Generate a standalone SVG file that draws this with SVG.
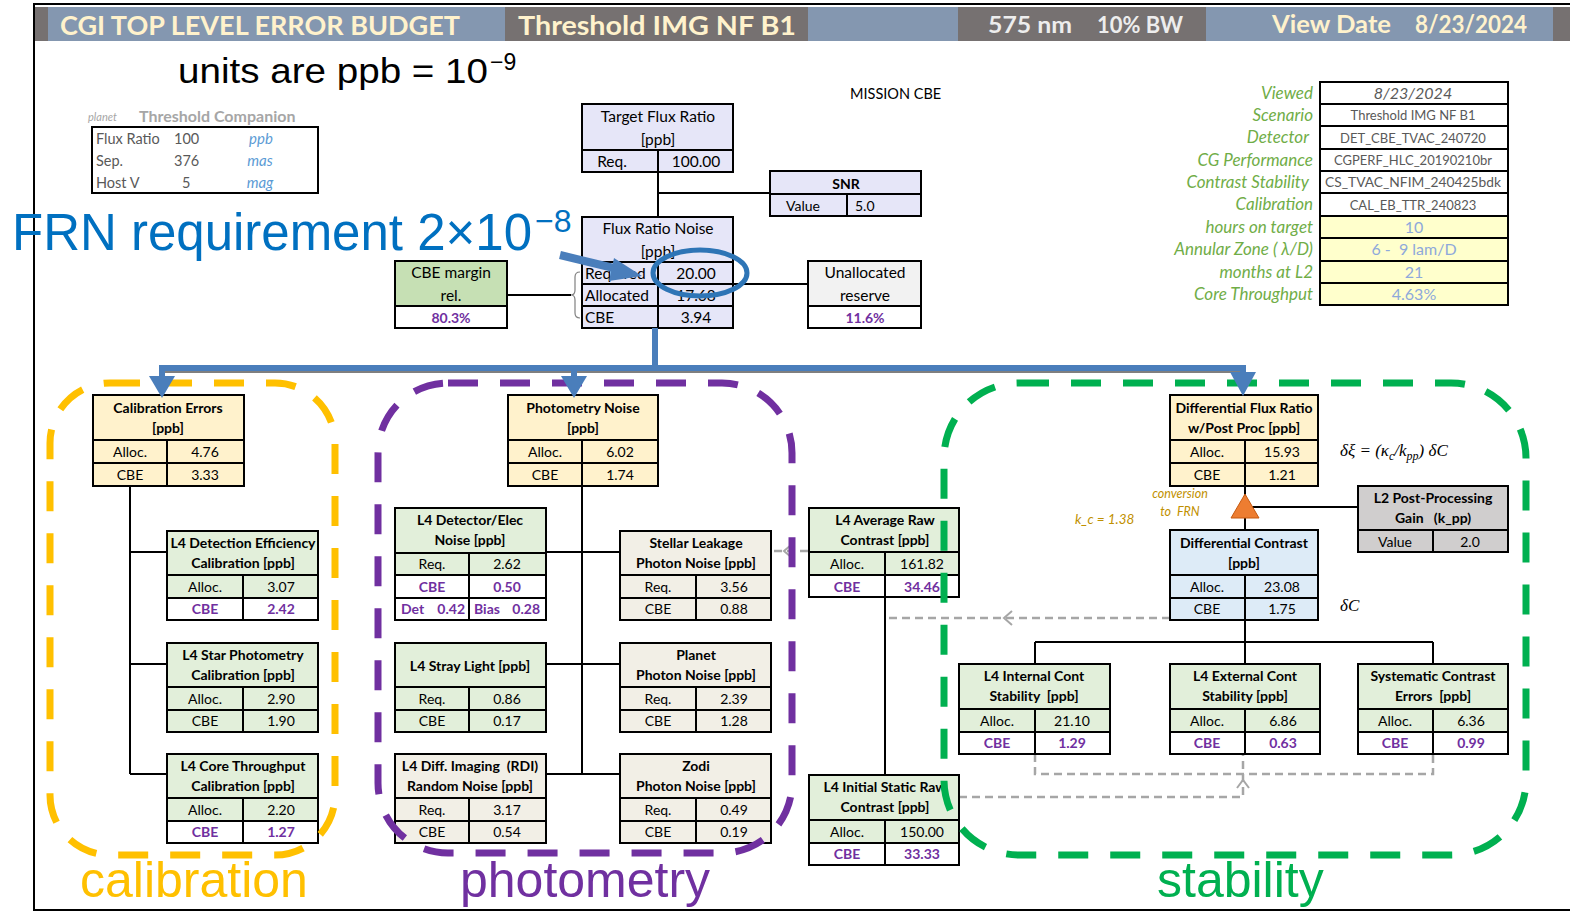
<svg xmlns="http://www.w3.org/2000/svg" width="1570" height="912" viewBox="0 0 1570 912">
<defs>
<style>
.t{font-family:Lato,"Open Sans",sans-serif;font-size:14px;fill:#000;text-anchor:middle}
.tl{font-family:Lato,"Open Sans",sans-serif;font-size:15.5px;fill:#000;text-anchor:middle}
.b{font-weight:bold}
.p{fill:#7030A0;font-weight:bold}
.s{text-anchor:start}
.e{text-anchor:end}
.bx{fill:none;stroke:#000;stroke-width:2}
.ln{stroke:#000;stroke-width:2;fill:none}
.dg{stroke:#A6A6A6;stroke-width:2.5;fill:none;stroke-dasharray:8 5}
.ch{stroke:#A6A6A6;stroke-width:2;fill:none}
.y{fill:#FFF2CC}.g{fill:#E2EFDA}.w{fill:#fff}.be{fill:#F2EFE6}.lv{fill:#E6E6F8}.bl{fill:#DDEBF7}.gr{fill:#D0CECE}
.hd{font-family:Lato,"Open Sans",sans-serif;font-weight:bold}
.grp{fill:none;stroke-width:7;stroke-dasharray:30 22}
.big{font-family:"Liberation Sans",Arial,sans-serif}
.lab{font-family:Lato,"Open Sans",sans-serif;font-style:italic;font-size:17px;fill:#70AD47;text-anchor:end}
.iv{font-family:Lato,"Open Sans",sans-serif;fill:#595959;text-anchor:middle}
.yv{font-family:Lato,"Open Sans",sans-serif;font-size:16px;fill:#8EA9DB;text-anchor:middle}
.gold{font-family:Lato,"Open Sans",sans-serif;font-style:italic;fill:#BF9000}
.math{font-family:"Liberation Serif","DejaVu Serif",serif;font-style:italic;font-size:17px;fill:#000}
</style>
</defs>
<rect width="1570" height="912" fill="#fff"/>
<!-- frame and header -->
<rect x="34" y="4" width="1545" height="906" fill="none" stroke="#000" stroke-width="2"/>
<g id="header">
<rect x="35" y="7" width="13" height="34" fill="#767171"/>
<rect x="48" y="7" width="457" height="34" fill="#8497B0"/>
<rect x="505" y="7" width="303" height="34" fill="#767171"/>
<rect x="808" y="7" width="150" height="34" fill="#8497B0"/>
<rect x="958" y="7" width="248" height="34" fill="#767171"/>
<rect x="1206" y="7" width="347" height="34" fill="#8497B0"/>
<rect x="1553" y="7" width="17" height="34" fill="#767171"/>
<text class="hd" x="60" y="35" font-size="26" fill="#FFF2CC" textLength="400" lengthAdjust="spacingAndGlyphs">CGI TOP LEVEL ERROR BUDGET</text>
<text class="hd" x="518" y="35" font-size="26" fill="#FFF2CC" textLength="278" lengthAdjust="spacingAndGlyphs">Threshold IMG NF B1</text>
<text class="hd" x="988" y="33" font-size="23" fill="#EDEDED" textLength="84" lengthAdjust="spacingAndGlyphs">575 nm</text>
<text class="hd" x="1097" y="33" font-size="23" fill="#EDEDED" textLength="86" lengthAdjust="spacingAndGlyphs">10% BW</text>
<text class="hd" x="1272" y="33" font-size="24" fill="#FFF2CC" textLength="119" lengthAdjust="spacingAndGlyphs">View Date</text>
<text class="hd" x="1415" y="33" font-size="24" fill="#FFF2CC" textLength="112" lengthAdjust="spacingAndGlyphs">8/23/2024</text>
</g>
<text class="big" x="178" y="83" font-size="35" fill="#000" textLength="310" lengthAdjust="spacingAndGlyphs">units are ppb = 10</text>
<text class="big" x="490" y="70" font-size="23" fill="#000">−9</text>
<text x="850" y="99" font-family="Lato,'Open Sans',sans-serif" font-size="14.5" fill="#000">MISSION CBE</text>
<!-- planet table -->
<g id="planet">
<text x="88" y="121" font-family="Lato,sans-serif" font-style="italic" font-size="11" fill="#A6A6A6">planet</text>
<text x="139" y="122" font-family="Lato,sans-serif" font-weight="bold" font-size="16" fill="#A6A6A6">Threshold Companion</text>
<rect x="92" y="127" width="226" height="66" class="bx"/>
<g font-family="Lato,sans-serif" font-size="14.5" fill="#595959">
<text x="96" y="144">Flux Ratio</text><text x="174" y="144">100</text>
<text x="96" y="166">Sep.</text><text x="174" y="166">376</text>
<text x="96" y="188">Host V</text><text x="182" y="188">5</text>
</g>
<g font-family="Lato,sans-serif" font-size="15" font-style="italic" fill="#5B9BD5" text-anchor="middle">
<text x="261" y="144">ppb</text><text x="260" y="166">mas</text><text x="260" y="188">mag</text>
</g>
</g>
<!-- right info panel -->
<g id="info">
<rect x="1320" y="82" width="188" height="134" fill="#fff"/>
<rect x="1320" y="216" width="188" height="89" fill="#FFFFCC"/>
<g class="ln">
<rect x="1320" y="82" width="188" height="223"/>
<path d="M1320,104H1508M1320,126H1508M1320,149H1508M1320,171H1508M1320,193H1508M1320,216H1508M1320,238H1508M1320,261H1508M1320,283H1508"/>
</g>
<text class="lab" x="1313" y="99">Viewed</text>
<text class="lab" x="1313" y="121">Scenario</text>
<text class="lab" x="1309" y="143">Detector</text>
<text class="lab" x="1313" y="166">CG Performance</text>
<text class="lab" x="1309" y="188">Contrast Stability</text>
<text class="lab" x="1313" y="210">Calibration</text>
<text class="lab" x="1313" y="233">hours on target</text>
<text class="lab" x="1313" y="255">Annular Zone ( λ/D)</text>
<text class="lab" x="1313" y="278">months at L2</text>
<text class="lab" x="1313" y="300">Core Throughput</text>
<text class="iv" x="1413" y="99" font-size="16" font-style="italic">8/23/2024</text>
<text class="iv" x="1413" y="120" font-size="13">Threshold IMG NF B1</text>
<text class="iv" x="1413" y="143" font-size="13">DET_CBE_TVAC_240720</text>
<text class="iv" x="1413" y="165" font-size="13">CGPERF_HLC_20190210br</text>
<text class="iv" x="1413" y="187" font-size="13" textLength="176" lengthAdjust="spacingAndGlyphs">CS_TVAC_NFIM_240425bdk</text>
<text class="iv" x="1413" y="210" font-size="13">CAL_EB_TTR_240823</text>
<text class="yv" x="1414" y="233">10</text>
<text class="yv" x="1414" y="255" xml:space="preserve">6 -  9 lam/D</text>
<text class="yv" x="1414" y="278">21</text>
<text class="yv" x="1414" y="300">4.63%</text>
</g>
<!-- connectors -->
<g id="connectors">
<path class="ln" d="M658,172V217M658,193H770M733,284H808M507,295H571"/>
<path d="M580,272q-5,0 -5,5v13q0,5 -4,5q4,0 4,5v13q0,5 5,5" fill="none" stroke="#808080" stroke-width="1.2"/>
<path d="M165,372H1240" stroke="#000" stroke-width="1.2"/>
<path class="ln" d="M130,486V774M130,552H167M130,664H167M130,774H167"/>
<path class="ln" d="M582,486V774M546,552H620M546,664H620M546,774H620"/>
<path class="ln" d="M885,597V775"/>
<path class="ln" d="M1245,486V530M1245,507H1358M1245,620V664M1035,642H1433M1035,642V664M1433,642V664"/>
<path class="dg" d="M808,551H772"/>
<path class="ch" d="M791,545l-7,6l7,6"/>
<path class="dg" d="M1170,618H885"/>
<path class="ch" d="M1012,611l-8,7l8,7"/>
<path class="dg" d="M959,797H1243V754"/>
<path class="ch" d="M1237,788l6,-8l6,8"/>
<path class="dg" d="M1035,754V774H1433V754"/>
<polygon points="1245,494 1231,518 1259,518" fill="#ED7D31" stroke="#C55A11" stroke-width="1"/>
</g>
<!-- top level nodes -->
<g id="target">
<rect x="582" y="104" width="151" height="68" class="lv"/>
<rect x="582" y="104" width="151" height="68" class="bx"/>
<path class="ln" d="M582,150H733M658,150V172"/>
<text class="tl" x="658" y="122">Target Flux Ratio</text>
<text class="tl" x="658" y="145">[ppb]</text>
<text class="tl" x="612" y="167">Req.</text>
<text class="tl" x="696" y="167">100.00</text>
</g>
<g id="snr">
<rect x="770" y="171" width="151" height="45" class="lv"/>
<rect x="770" y="171" width="151" height="45" class="bx"/>
<path class="ln" d="M770,194H921M847,194V216"/>
<text class="t b" x="846" y="189">SNR</text>
<text class="t" x="803" y="211">Value</text>
<text class="t s" x="855" y="211">5.0</text>
</g>
<g id="frn">
<rect x="582" y="217" width="151" height="111" class="lv"/>
<rect x="582" y="217" width="151" height="111" class="bx"/>
<path class="ln" d="M582,262H733M582,284H733M582,306H733M658,262V328"/>
<text class="tl" x="658" y="234">Flux Ratio Noise</text>
<text class="tl" x="658" y="257">[ppb]</text>
<text class="tl s" x="585" y="279">Required</text>
<text class="tl" x="696" y="279">20.00</text>
<text class="tl s" x="585" y="301">Allocated</text>
<text class="tl" x="696" y="301">17.68</text>
<text class="tl s" x="585" y="323">CBE</text>
<text class="tl" x="696" y="323">3.94</text>
</g>
<g id="margin">
<rect x="395" y="261" width="112" height="45" fill="#C6E0B4"/>
<rect x="395" y="306" width="112" height="22" class="w"/>
<rect x="395" y="261" width="112" height="67" class="bx"/>
<path class="ln" d="M395,306H507"/>
<text class="tl" x="451" y="278">CBE margin</text>
<text class="tl" x="451" y="301">rel.</text>
<text class="t p" x="451" y="323">80.3%</text>
</g>
<g id="reserve">
<rect x="808" y="261" width="113" height="45" fill="#F2F2F2"/>
<rect x="808" y="306" width="113" height="22" class="w"/>
<rect x="808" y="261" width="113" height="67" class="bx"/>
<path class="ln" d="M808,306H921"/>
<text class="tl" x="865" y="278">Unallocated</text>
<text class="tl" x="865" y="301">reserve</text>
<text class="t p" x="865" y="323">11.6%</text>
</g>
<!-- calibration -->
<g id="cal-errors">
<rect x="93" y="395" width="151" height="91" class="y"/>
<rect x="93" y="395" width="151" height="91" class="bx"/>
<path class="ln" d="M93,440H244M93,463H244M167,440V486"/>
<text class="t b" x="168" y="413">Calibration Errors</text>
<text class="t b" x="168" y="433">[ppb]</text>
<text class="t" x="130" y="457">Alloc.</text><text class="t" x="205" y="457">4.76</text>
<text class="t" x="130" y="480">CBE</text><text class="t" x="205" y="480">3.33</text>
</g>
<g id="det-eff">
<rect x="167" y="531" width="151" height="67" class="g"/>
<rect x="167" y="598" width="151" height="22" class="w"/>
<rect x="167" y="531" width="151" height="89" class="bx"/>
<path class="ln" d="M167,575H318M167,598H318M243,575V620"/>
<text class="t b" x="243" y="548">L4 Detection Efficiency</text>
<text class="t b" x="243" y="568">Calibration [ppb]</text>
<text class="t" x="205" y="592">Alloc.</text><text class="t" x="281" y="592">3.07</text>
<text class="t p" x="205" y="614">CBE</text><text class="t p" x="281" y="614">2.42</text>
</g>
<g id="star-phot">
<rect x="167" y="643" width="151" height="89" class="g"/>
<rect x="167" y="643" width="151" height="89" class="bx"/>
<path class="ln" d="M167,687H318M167,710H318M243,687V732"/>
<text class="t b" x="243" y="660">L4 Star Photometry</text>
<text class="t b" x="243" y="680">Calibration [ppb]</text>
<text class="t" x="205" y="704">Alloc.</text><text class="t" x="281" y="704">2.90</text>
<text class="t" x="205" y="726">CBE</text><text class="t" x="281" y="726">1.90</text>
</g>
<g id="core-thru">
<rect x="167" y="754" width="151" height="67" class="g"/>
<rect x="167" y="821" width="151" height="22" class="w"/>
<rect x="167" y="754" width="151" height="89" class="bx"/>
<path class="ln" d="M167,798H318M167,821H318M243,798V843"/>
<text class="t b" x="243" y="771">L4 Core Throughput</text>
<text class="t b" x="243" y="791">Calibration [ppb]</text>
<text class="t" x="205" y="815">Alloc.</text><text class="t" x="281" y="815">2.20</text>
<text class="t p" x="205" y="837">CBE</text><text class="t p" x="281" y="837">1.27</text>
</g>
<!-- photometry -->
<g id="phot-noise">
<rect x="508" y="395" width="150" height="91" class="y"/>
<rect x="508" y="395" width="150" height="91" class="bx"/>
<path class="ln" d="M508,440H658M508,463H658M582,440V486"/>
<text class="t b" x="583" y="413">Photometry Noise</text>
<text class="t b" x="583" y="433">[ppb]</text>
<text class="t" x="545" y="457">Alloc.</text><text class="t" x="620" y="457">6.02</text>
<text class="t" x="545" y="480">CBE</text><text class="t" x="620" y="480">1.74</text>
</g>
<g id="det-elec">
<rect x="395" y="508" width="151" height="67" class="g"/>
<rect x="395" y="575" width="151" height="45" class="w"/>
<rect x="395" y="508" width="151" height="112" class="bx"/>
<path class="ln" d="M395,553H546M395,575H546M395,598H546M469,553V620"/>
<text class="t b" x="470" y="525">L4 Detector/Elec</text>
<text class="t b" x="470" y="545">Noise [ppb]</text>
<text class="t" x="432" y="569">Req.</text><text class="t" x="507" y="569">2.62</text>
<text class="t p" x="432" y="592">CBE</text><text class="t p" x="507" y="592">0.50</text>
<text class="t p s" x="401" y="614">Det</text><text class="t p e" x="465" y="614">0.42</text>
<text class="t p s" x="474" y="614">Bias</text><text class="t p e" x="540" y="614">0.28</text>
</g>
<g id="stellar">
<rect x="620" y="531" width="151" height="89" class="be"/>
<rect x="620" y="531" width="151" height="89" class="bx"/>
<path class="ln" d="M620,575H771M620,598H771M696,575V620"/>
<text class="t b" x="696" y="548">Stellar Leakage</text>
<text class="t b" x="696" y="568">Photon Noise [ppb]</text>
<text class="t" x="658" y="592">Req.</text><text class="t" x="734" y="592">3.56</text>
<text class="t" x="658" y="614">CBE</text><text class="t" x="734" y="614">0.88</text>
</g>
<g id="stray">
<rect x="395" y="643" width="151" height="89" class="g"/>
<rect x="395" y="643" width="151" height="89" class="bx"/>
<path class="ln" d="M395,687H546M395,710H546M469,687V732"/>
<text class="t b" x="470" y="671">L4 Stray Light [ppb]</text>
<text class="t" x="432" y="704">Req.</text><text class="t" x="507" y="704">0.86</text>
<text class="t" x="432" y="726">CBE</text><text class="t" x="507" y="726">0.17</text>
</g>
<g id="planet-noise">
<rect x="620" y="643" width="151" height="89" class="be"/>
<rect x="620" y="643" width="151" height="89" class="bx"/>
<path class="ln" d="M620,687H771M620,710H771M696,687V732"/>
<text class="t b" x="696" y="660">Planet</text>
<text class="t b" x="696" y="680">Photon Noise [ppb]</text>
<text class="t" x="658" y="704">Req.</text><text class="t" x="734" y="704">2.39</text>
<text class="t" x="658" y="726">CBE</text><text class="t" x="734" y="726">1.28</text>
</g>
<g id="rdi">
<rect x="395" y="754" width="151" height="89" class="be"/>
<rect x="395" y="754" width="151" height="89" class="bx"/>
<path class="ln" d="M395,798H546M395,821H546M469,798V843"/>
<text class="t b" x="470" y="771" xml:space="preserve">L4 Diff. Imaging  (RDI)</text>
<text class="t b" x="470" y="791">Random Noise [ppb]</text>
<text class="t" x="432" y="815">Req.</text><text class="t" x="507" y="815">3.17</text>
<text class="t" x="432" y="837">CBE</text><text class="t" x="507" y="837">0.54</text>
</g>
<g id="zodi">
<rect x="620" y="754" width="151" height="89" class="be"/>
<rect x="620" y="754" width="151" height="89" class="bx"/>
<path class="ln" d="M620,798H771M620,821H771M696,798V843"/>
<text class="t b" x="696" y="771">Zodi</text>
<text class="t b" x="696" y="791">Photon Noise [ppb]</text>
<text class="t" x="658" y="815">Req.</text><text class="t" x="734" y="815">0.49</text>
<text class="t" x="658" y="837">CBE</text><text class="t" x="734" y="837">0.19</text>
</g>
<!-- raw contrast -->
<g id="avg-raw">
<rect x="809" y="508" width="150" height="67" class="g"/>
<rect x="809" y="575" width="150" height="22" class="w"/>
<rect x="809" y="508" width="150" height="89" class="bx"/>
<path class="ln" d="M809,552H959M809,575H959M885,552V597"/>
<text class="t b" x="885" y="525">L4 Average Raw</text>
<text class="t b" x="885" y="545">Contrast [ppb]</text>
<text class="t" x="847" y="569">Alloc.</text><text class="t" x="922" y="569">161.82</text>
<text class="t p" x="847" y="592">CBE</text><text class="t p" x="922" y="592">34.46</text>
</g>
<g id="init-raw">
<rect x="809" y="775" width="150" height="68" class="g"/>
<rect x="809" y="843" width="150" height="22" class="w"/>
<rect x="809" y="775" width="150" height="90" class="bx"/>
<path class="ln" d="M809,820H959M809,843H959M885,820V865"/>
<text class="t b" x="885" y="792">L4 Initial Static Raw</text>
<text class="t b" x="885" y="812">Contrast [ppb]</text>
<text class="t" x="847" y="837">Alloc.</text><text class="t" x="922" y="837">150.00</text>
<text class="t p" x="847" y="859">CBE</text><text class="t p" x="922" y="859">33.33</text>
</g>
<!-- stability -->
<g id="dfr">
<rect x="1170" y="395" width="148" height="91" class="y"/>
<rect x="1170" y="395" width="148" height="91" class="bx"/>
<path class="ln" d="M1170,440H1318M1170,463H1318M1245,440V486"/>
<text class="t b" x="1244" y="413">Differential Flux Ratio</text>
<text class="t b" x="1244" y="433">w/Post Proc [ppb]</text>
<text class="t" x="1207" y="457">Alloc.</text><text class="t" x="1282" y="457">15.93</text>
<text class="t" x="1207" y="480">CBE</text><text class="t" x="1282" y="480">1.21</text>
</g>
<g id="kpp">
<rect x="1358" y="486" width="150" height="66" class="gr"/>
<rect x="1358" y="486" width="150" height="66" class="bx"/>
<path class="ln" d="M1358,530H1508M1433,530V552"/>
<text class="t b" x="1433" y="503">L2 Post-Processing</text>
<text class="t b" x="1433" y="523" xml:space="preserve">Gain   (k_pp)</text>
<text class="t" x="1395" y="547">Value</text><text class="t" x="1470" y="547">2.0</text>
</g>
<g id="dcon">
<rect x="1170" y="530" width="148" height="90" class="bl"/>
<rect x="1170" y="530" width="148" height="90" class="bx"/>
<path class="ln" d="M1170,575H1318M1170,598H1318M1245,575V620"/>
<text class="t b" x="1244" y="548">Differential Contrast</text>
<text class="t b" x="1244" y="568">[ppb]</text>
<text class="t" x="1207" y="592">Alloc.</text><text class="t" x="1282" y="592">23.08</text>
<text class="t" x="1207" y="614">CBE</text><text class="t" x="1282" y="614">1.75</text>
</g>
<g id="int-stab">
<rect x="959" y="664" width="151" height="68" class="g"/>
<rect x="959" y="732" width="151" height="22" class="w"/>
<rect x="959" y="664" width="151" height="90" class="bx"/>
<path class="ln" d="M959,709H1110M959,732H1110M1035,709V754"/>
<text class="t b" x="1034" y="681">L4 Internal Cont</text>
<text class="t b" x="1034" y="701" xml:space="preserve">Stability  [ppb]</text>
<text class="t" x="997" y="726">Alloc.</text><text class="t" x="1072" y="726">21.10</text>
<text class="t p" x="997" y="748">CBE</text><text class="t p" x="1072" y="748">1.29</text>
</g>
<g id="ext-stab">
<rect x="1170" y="664" width="150" height="68" class="g"/>
<rect x="1170" y="732" width="150" height="22" class="w"/>
<rect x="1170" y="664" width="150" height="90" class="bx"/>
<path class="ln" d="M1170,709H1320M1170,732H1320M1245,709V754"/>
<text class="t b" x="1245" y="681">L4 External Cont</text>
<text class="t b" x="1245" y="701">Stability [ppb]</text>
<text class="t" x="1207" y="726">Alloc.</text><text class="t" x="1283" y="726">6.86</text>
<text class="t p" x="1207" y="748">CBE</text><text class="t p" x="1283" y="748">0.63</text>
</g>
<g id="sys-err">
<rect x="1358" y="664" width="150" height="68" class="g"/>
<rect x="1358" y="732" width="150" height="22" class="w"/>
<rect x="1358" y="664" width="150" height="90" class="bx"/>
<path class="ln" d="M1358,709H1508M1358,732H1508M1433,709V754"/>
<text class="t b" x="1433" y="681">Systematic Contrast</text>
<text class="t b" x="1433" y="701" xml:space="preserve">Errors  [ppb]</text>
<text class="t" x="1395" y="726">Alloc.</text><text class="t" x="1471" y="726">6.36</text>
<text class="t p" x="1395" y="748">CBE</text><text class="t p" x="1471" y="748">0.99</text>
</g>
<!-- annotations -->
<text class="gold" x="1180" y="498" font-size="12.5" text-anchor="middle">conversion</text>
<text class="gold" x="1180" y="516" font-size="12.5" text-anchor="middle" xml:space="preserve">to  FRN</text>
<text class="gold" x="1075" y="524" font-size="13.5" font-style="normal">k_c = <tspan font-style="italic">1.38</tspan></text>
<text class="math" x="1340" y="456">δξ = (κ<tspan font-size="12" dy="4">c</tspan><tspan dy="-4">/</tspan>k<tspan font-size="12" dy="4">pp</tspan><tspan dy="-4">) δC</tspan></text>
<text class="math" x="1340" y="611">δC</text>
<!-- groups -->
<g id="groups">
<rect x="50" y="383" width="285" height="472" rx="60" class="grp" stroke="#FFC000"/>
<rect x="378" y="383" width="414" height="470" rx="70" class="grp" stroke="#7030A0"/>
<rect x="944" y="383" width="582" height="472" rx="75" class="grp" stroke="#00B050"/>
<text class="big" x="80" y="897" font-size="50" fill="#FFC000">calibration</text>
<text class="big" x="460" y="897" font-size="50" fill="#7030A0">photometry</text>
<text class="big" x="1157" y="897" font-size="50" fill="#00B050">stability</text>
</g>
<!-- blue flow -->
<g id="blue-flow" fill="#4A7EBB">
<path d="M655,328V368M159,368H1246" stroke="#4A7EBB" stroke-width="6" fill="none"/>
<path d="M162,366V378M574,366V378M1243,366V374" stroke="#4A7EBB" stroke-width="6" fill="none"/>
<polygon points="149,376 175,376 162,398"/>
<polygon points="561,376 587,376 574,398"/>
<polygon points="1230,372 1256,372 1243,396"/>
</g>
<!-- FRN callout -->
<g id="frn-callout">
<text class="big" x="12" y="250" font-size="51" fill="#0070C0" textLength="520" lengthAdjust="spacingAndGlyphs">FRN requirement 2×10</text>
<text class="big" x="535" y="232" font-size="32" fill="#0070C0">−8</text>
<path d="M560,255L622,270" stroke="#4A7EBB" stroke-width="8"/>
<polygon points="614,258 642,276 609,281" fill="#4A7EBB"/>
<ellipse cx="700" cy="273" rx="47" ry="23" fill="none" stroke="#2E75B6" stroke-width="5"/>
</g>
</svg>
